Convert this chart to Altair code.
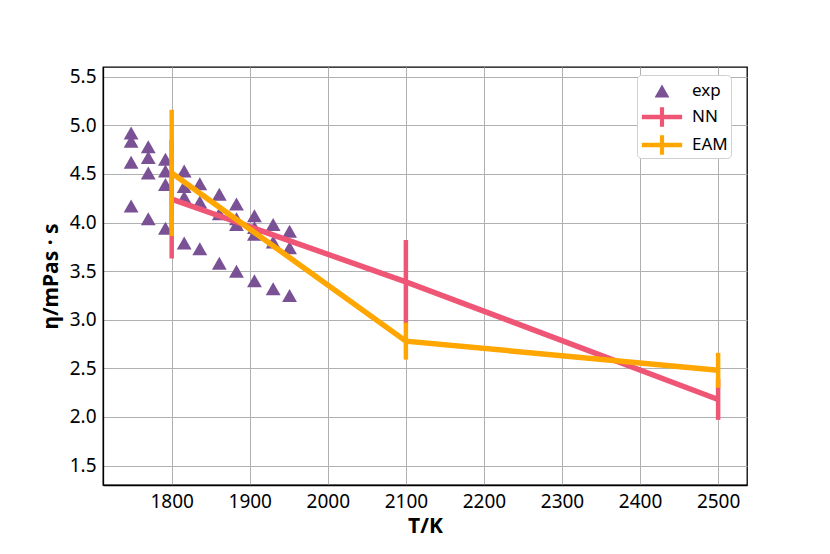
import altair as alt
import pandas as pd

# ---- data ----
exp_T = [1748, 1748, 1748, 1748,
         1770, 1770, 1770, 1770,
         1792, 1792, 1792, 1792,
         1816, 1816, 1816, 1816,
         1836, 1836, 1836,
         1861, 1861, 1861,
         1883, 1883, 1883, 1883,
         1906, 1906, 1906, 1906,
         1930, 1930, 1930,
         1951, 1951, 1951]
exp_eta = [4.92, 4.835, 4.62, 4.17,
           4.78, 4.67, 4.51, 4.04,
           4.65, 4.53, 4.39, 3.94,
           4.53, 4.37, 4.26, 3.79,
           4.40, 4.21, 3.73,
           4.29, 4.09, 3.58,
           4.19, 4.04, 3.98, 3.50,
           4.07, 3.95, 3.88, 3.40,
           3.98, 3.80, 3.32,
           3.91, 3.74, 3.25]

sim_T = [1800, 2100, 2500]
nn_eta = [4.24, 3.39, 2.18]
nn_err = [0.61, 0.43, 0.21]
eam_eta = [4.51, 2.78, 2.48]
eam_err = [0.65, 0.19, 0.18]

series_names = ["exp", "NN", "EAM"]
series_colors = ["#7a5195", "#ef5675", "#ffa600"]
x_ticks = [1800, 1900, 2000, 2100, 2200, 2300, 2400, 2500]
y_ticks = [1.5, 2.0, 2.5, 3.0, 3.5, 4.0, 4.5, 5.0, 5.5]

df_exp = pd.DataFrame({"T": exp_T, "eta": exp_eta, "series": "exp"})
df_nn = pd.DataFrame({"T": sim_T, "eta": nn_eta, "err": nn_err, "series": "NN"})
df_eam = pd.DataFrame({"T": sim_T, "eta": eam_eta, "err": eam_err, "series": "EAM"})
for d in (df_nn, df_eam):
    d["lo"] = d["eta"] - d["err"]
    d["hi"] = d["eta"] + d["err"]

FONT = "Noto Sans"
SYM = 676  # r = 13 px
tri_path = "M0,-0.5L0.57,0.5L-0.57,0.5Z"
plus_path = "M-1.55,-0.17H1.55V0.17H-1.55Z M-0.16,-0.75H0.16V0.75H-0.16Z"

x_enc = alt.X("T:Q", title="T/K",
              scale=alt.Scale(domain=[1712, 2537], nice=False, zero=False),
              axis=alt.Axis(values=x_ticks, format="d"))
y_enc = alt.Y("eta:Q", title="η/mPas · s",
              scale=alt.Scale(domain=[1.3, 5.6], nice=False, zero=False),
              axis=alt.Axis(values=y_ticks, format=".1f"))

leg = alt.Legend(title=None, orient="none", legendX=534, legendY=8)
color_enc = alt.Color("series:N",
                      scale=alt.Scale(domain=series_names, range=series_colors),
                      legend=leg)
shape_enc = alt.Shape("series:N",
                      scale=alt.Scale(domain=series_names,
                                      range=[tri_path, plus_path, plus_path]),
                      legend=leg)

pts = alt.Chart(df_exp).mark_point(filled=True, size=SYM, opacity=1).encode(
    x=x_enc, y=y_enc, color=color_enc, shape=shape_enc)

def sim_layers(df):
    line = alt.Chart(df).mark_line(strokeWidth=5.5).encode(
        x=x_enc, y=y_enc, color=color_enc)
    bars = alt.Chart(df).mark_rule(strokeWidth=4.5).encode(
        x="T:Q", y="lo:Q", y2="hi:Q", color=color_enc)
    return line + bars

chart = alt.layer(pts, sim_layers(df_nn), sim_layers(df_eam)).properties(
    width=644, height=418,
    autosize=alt.AutoSizeParams(type="none"),
    padding={"left": 95, "top": 59, "right": 75, "bottom": 61},
).configure_view(
    stroke="black", strokeWidth=1.3
).configure_axis(
    labelFont=FONT, labelFontSize=19, labelColor="black",
    titleFont=FONT, titleFontSize=21, titleFontWeight="bold", titleColor="black",
    grid=True, gridColor="#b0b0b0", gridWidth=1,
    ticks=False, domainColor="black", domainWidth=1.3,
    labelPadding=7,
).configure_axisX(titlePadding=4).configure_axisY(titlePadding=8).configure_legend(
    labelFont=FONT, labelFontSize=17, labelColor="black",
    strokeColor="#d0d0d0", fillColor="white", cornerRadius=4, padding=3,
    symbolSize=SYM, symbolStrokeWidth=0, rowPadding=5,
    symbolOffset=9, labelOffset=17,
)

chart.save("out.html", embed_options={"renderer": "svg", "actions": False})
